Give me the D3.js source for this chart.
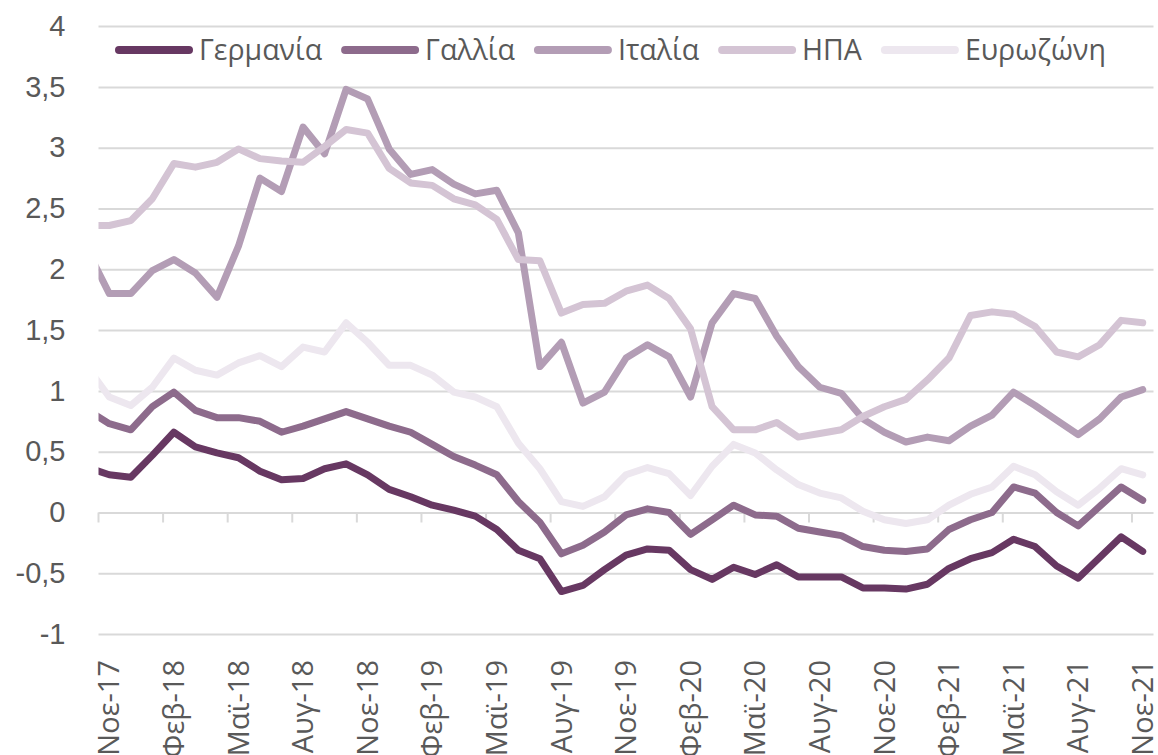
<!DOCTYPE html>
<html>
<head>
<meta charset="utf-8">
<script src="https://cdn.jsdelivr.net/npm/d3@7"></script>
<style>
  body { margin: 0; background: #fff; }
  svg { display: block; font-family: 'Open Sans', sans-serif; }
  .chartAxis text { fill: #595959; font-size: 29px; }
  .legend text { font-size: 28.5px; }
</style>
</head>
<body>
<div id="chart"></div>
<script>
// months (first one, Οκτ-17, sits just left of the plot and is clipped)
const months = [
  'Οκτ-17', 'Νοε-17', 'Δεκ-17',
  'Ιαν-18', 'Φεβ-18', 'Μαρ-18', 'Απρ-18', 'Μαϊ-18', 'Ιουν-18', 'Ιουλ-18', 'Αυγ-18', 'Σεπ-18', 'Οκτ-18', 'Νοε-18', 'Δεκ-18',
  'Ιαν-19', 'Φεβ-19', 'Μαρ-19', 'Απρ-19', 'Μαϊ-19', 'Ιουν-19', 'Ιουλ-19', 'Αυγ-19', 'Σεπ-19', 'Οκτ-19', 'Νοε-19', 'Δεκ-19',
  'Ιαν-20', 'Φεβ-20', 'Μαρ-20', 'Απρ-20', 'Μαϊ-20', 'Ιουν-20', 'Ιουλ-20', 'Αυγ-20', 'Σεπ-20', 'Οκτ-20', 'Νοε-20', 'Δεκ-20',
  'Ιαν-21', 'Φεβ-21', 'Μαρ-21', 'Απρ-21', 'Μαϊ-21', 'Ιουν-21', 'Ιουλ-21', 'Αυγ-21', 'Σεπ-21', 'Οκτ-21', 'Νοε-21'
];
const xLabels = ['Νοε-17', 'Φεβ-18', 'Μαϊ-18', 'Αυγ-18', 'Νοε-18', 'Φεβ-19', 'Μαϊ-19', 'Αυγ-19', 'Νοε-19',
  'Φεβ-20', 'Μαϊ-20', 'Αυγ-20', 'Νοε-20', 'Φεβ-21', 'Μαϊ-21', 'Αυγ-21', 'Νοε-21'];

const germany = [0.37, 0.31, 0.29, 0.47, 0.66, 0.54, 0.49, 0.45, 0.34, 0.27, 0.28, 0.36, 0.40, 0.31, 0.19, 0.13, 0.06, 0.02, -0.03, -0.14,
  -0.31, -0.38, -0.65, -0.60, -0.47, -0.35, -0.30, -0.31, -0.47, -0.55, -0.45, -0.51, -0.43, -0.53, -0.53, -0.53, -0.62, -0.62, -0.63, -0.59,
  -0.46, -0.38, -0.33, -0.22, -0.28, -0.44, -0.54, -0.37, -0.20, -0.32];
const france = [0.84, 0.73, 0.68, 0.87, 0.99, 0.84, 0.78, 0.78, 0.75, 0.66, 0.71, 0.77, 0.83, 0.77, 0.71, 0.66, 0.56, 0.46, 0.39, 0.31,
  0.09, -0.08, -0.34, -0.27, -0.16, -0.02, 0.03, 0.00, -0.18, -0.06, 0.06, -0.02, -0.03, -0.13, -0.16, -0.19, -0.28, -0.31, -0.32, -0.30,
  -0.14, -0.06, 0.00, 0.21, 0.16, 0.00, -0.11, 0.05, 0.21, 0.10];
const italy = [2.15, 1.80, 1.80, 1.99, 2.08, 1.97, 1.77, 2.19, 2.75, 2.64, 3.17, 2.95, 3.48, 3.40, 2.99, 2.78, 2.82, 2.70, 2.62, 2.65,
  2.30, 1.20, 1.40, 0.90, 0.99, 1.27, 1.38, 1.28, 0.95, 1.56, 1.80, 1.76, 1.45, 1.20, 1.03, 0.98, 0.77, 0.66, 0.58, 0.62,
  0.59, 0.71, 0.80, 0.99, 0.88, 0.76, 0.64, 0.77, 0.95, 1.01];
const usa = [2.36, 2.36, 2.40, 2.58, 2.87, 2.84, 2.88, 2.99, 2.91, 2.89, 2.88, 3.01, 3.15, 3.12, 2.83, 2.71, 2.69, 2.58, 2.53, 2.41,
  2.08, 2.07, 1.64, 1.71, 1.72, 1.82, 1.87, 1.76, 1.51, 0.87, 0.68, 0.68, 0.74, 0.62, 0.65, 0.68, 0.79, 0.87, 0.93, 1.09,
  1.27, 1.62, 1.65, 1.63, 1.53, 1.32, 1.28, 1.38, 1.58, 1.56];
const euro = [1.19, 0.95, 0.88, 1.03, 1.27, 1.17, 1.13, 1.23, 1.29, 1.20, 1.36, 1.32, 1.56, 1.40, 1.21, 1.21, 1.13, 0.99, 0.95, 0.87,
  0.57, 0.36, 0.09, 0.05, 0.13, 0.31, 0.37, 0.32, 0.14, 0.38, 0.56, 0.49, 0.35, 0.23, 0.16, 0.12, 0.01, -0.06, -0.09, -0.06,
  0.06, 0.15, 0.21, 0.38, 0.31, 0.17, 0.06, 0.20, 0.36, 0.31];

const seriesNames = ['Γερμανία', 'Γαλλία', 'Ιταλία', 'ΗΠΑ', 'Ευρωζώνη'];
const seriesColors = ['#673862', '#8d6b8c', '#b39db5', '#d4c4d4', '#ede7ef'];
const yTicks = [-1, -0.5, 0, 0.5, 1, 1.5, 2, 2.5, 3, 3.5, 4];
const yTickLabels = ['-1', '-0,5', '0', '0,5', '1', '1,5', '2', '2,5', '3', '3,5', '4'];

let W = 1158, H = 755;
let plot = {left: 98.5, right: 1153.5, top: 26.1, bottom: 634.1};
let step = (plot.right - plot.left) / (months.length - 1);

let svg = d3.select('#chart').append('svg')
  .attr('width', W)
  .attr('height', H);

let x = d3.scaleBand()
  .domain(months)
  .range([plot.left - step, plot.right])
  .padding(0);
let y = d3.scaleLinear().domain([-1, 4]).range([plot.bottom, plot.top]);

// gridlines + y labels
let yAxis = svg.append('g')
  .attr('class', 'chartAxis axisY')
  .attr('transform', `translate(${plot.left},0)`)
  .call(d3.axisLeft(y).tickValues(yTicks).tickSize(-(plot.right - plot.left)).tickPadding(33)
    .tickFormat((d, i) => yTickLabels[i]));
yAxis.select('.domain').remove();
yAxis.selectAll('.tick line').attr('stroke', '#d9d9d9').attr('stroke-width', 2);

// category tick marks on the zero line (every 3 months, at category boundaries)
svg.append('g')
  .selectAll('line')
  .data(xLabels)
  .enter().append('line')
  .attr('x1', d => x(d))
  .attr('x2', d => x(d))
  .attr('y1', y(0))
  .attr('y2', y(0) + 10)
  .attr('stroke', '#d9d9d9')
  .attr('stroke-width', 2);

// x labels, rotated (they run off the bottom edge, as in the original)
svg.append('g')
  .attr('class', 'chartAxis axisX')
  .selectAll('text')
  .data(xLabels)
  .enter().append('text')
  .attr('transform', d => `translate(${x(d) + x.bandwidth() / 2},660) rotate(-90)`)
  .attr('text-anchor', 'end')
  .attr('dy', '0.35em')
  .text(d => d);

// lines
svg.append('defs').append('clipPath')
  .attr('id', 'plotClip')
  .append('rect')
  .attr('x', plot.left)
  .attr('y', 0)
  .attr('width', W - plot.left)
  .attr('height', H);

let line = d3.line()
  .x((d, i) => x(months[i]) + x.bandwidth() / 2)
  .y(d => y(d));

let allSeries = [germany, france, italy, usa, euro];
svg.append('g')
  .attr('clip-path', 'url(#plotClip)')
  .selectAll('path')
  .data(allSeries)
  .enter().append('path')
  .attr('d', d => line(d))
  .attr('fill', 'none')
  .attr('stroke', (d, i) => seriesColors[i])
  .attr('stroke-width', 7)
  .attr('stroke-linejoin', 'round')
  .attr('stroke-linecap', 'round');

// legend
let legend = svg.append('g').attr('class', 'chartAxis legend');
let lx = 115;
seriesNames.forEach((name, i) => {
  legend.append('line')
    .attr('x1', lx + 4).attr('x2', lx + 74)
    .attr('y1', 50).attr('y2', 50)
    .attr('stroke', seriesColors[i])
    .attr('stroke-width', 8)
    .attr('stroke-linecap', 'round');
  let t = legend.append('text')
    .attr('x', lx + 84)
    .attr('y', 50)
    .attr('dy', '0.35em')
    .text(name);
  lx = lx + 84 + t.node().getComputedTextLength() + 19;
});
</script>
</body>
</html>
